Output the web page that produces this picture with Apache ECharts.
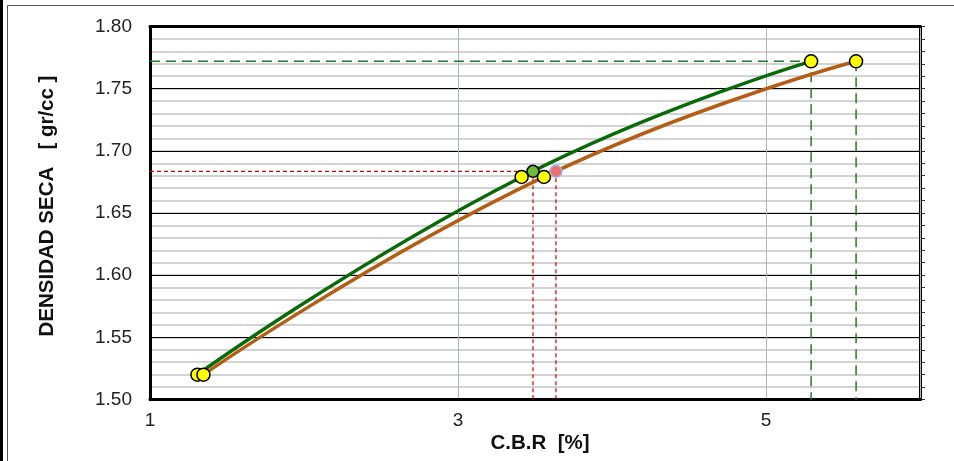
<!DOCTYPE html>
<html>
<head>
<meta charset="utf-8">
<script src="https://cdn.jsdelivr.net/npm/echarts@6/dist/echarts.min.js"></script>
<style>
  html, body { margin: 0; padding: 0; background: #fff; }
  #chart { width: 954px; height: 461px; }
</style>
</head>
<body>
<div id="chart"></div>
<script>
// Compaction curves: C.B.R [%] versus dry density [gr/cc]
const cbrGreen = [1.308, 3.413, 5.293];
const densGreen = [1.520, 1.679, 1.772];
const cbrBrown = [1.347, 3.558, 5.585];
const densBrown = [1.520, 1.679, 1.772];

// Design points read on each curve
const cbrDesignGreen = 3.487;
const cbrDesignBrown = 3.636;
const densDesign = 1.6835;
const densMax = 1.772;

const xTickLabels = [1, 3, 5];
const yTickLabels = [1.50, 1.55, 1.60, 1.65, 1.70, 1.75, 1.80];

const X_MIN = 1, X_MAX = 6, Y_MIN = 1.5, Y_MAX = 1.8;
const FONT = '"Liberation Sans", Arial, sans-serif';

const zip = (xs, ys) => xs.map((x, i) => [x, ys[i]]);

const chart = echarts.init(document.getElementById('chart'), null, { renderer: 'canvas' });

function dashed(data, color, type, width) {
  return {
    type: 'line', data, symbol: 'none', silent: true, z: 1,
    lineStyle: { color, width, type }
  };
}

const option = {
  animation: false,
  backgroundColor: '#fff',
  grid: { left: 150, right: 34, top: 26.5, bottom: 61.5 },
  xAxis: [
    {
      type: 'value', min: X_MIN, max: X_MAX, interval: 2, position: 'bottom', z: 1,
      axisLine: { show: true, lineStyle: { color: '#000', width: 3 } },
      axisTick: { show: false },
      axisLabel: {
        fontSize: 19, color: '#222', fontFamily: FONT, margin: 12,
        formatter: v => xTickLabels.includes(v) ? String(v) : ''
      },
      splitLine: { show: true, lineStyle: { color: '#aab4c8', width: 1 } }
    },
    {
      type: 'value', min: X_MIN, max: X_MAX, position: 'top', z: 1,
      axisLine: { show: true, onZero: false, lineStyle: { color: '#000', width: 3 } },
      axisTick: { show: false }, axisLabel: { show: false }, splitLine: { show: false }
    }
  ],
  yAxis: [
    {
      type: 'value', min: Y_MIN, max: Y_MAX, interval: 0.05, position: 'left', z: 1,
      axisLine: { show: true, lineStyle: { color: '#000', width: 3 } },
      axisTick: { show: false },
      axisLabel: {
        fontSize: 19, color: '#222', fontFamily: FONT, margin: 18,
        formatter: v => {
          const hit = yTickLabels.find(t => Math.abs(t - v) < 1e-6);
          return hit !== undefined ? hit.toFixed(2) : '';
        }
      },
      splitLine: { show: true, lineStyle: { color: '#000', width: 1 } }
    },
    {
      type: 'value', min: Y_MIN, max: Y_MAX, interval: 0.01, position: 'right', z: 0,
      axisLine: { show: true, lineStyle: { color: '#000', width: 3 } },
      axisTick: { show: true, length: 5, inside: false, lineStyle: { color: '#333', width: 1 } },
      axisLabel: { show: false },
      splitLine: { show: true, lineStyle: { color: '#c4c4c4', width: 1.5 } }
    }
  ],
  series: [
    // reference lines for maximum density
    dashed([[X_MIN, densMax], [cbrGreen[2], densMax], [cbrGreen[2], Y_MIN]], '#237a23', [10, 6], 1.5),
    dashed([[cbrBrown[2], densMax], [cbrBrown[2], Y_MIN]], '#237a23', [10, 6], 1.5),
    // reference lines for design density
    dashed([[X_MIN, densDesign], [cbrDesignBrown, densDesign]], '#d00000', [4, 3], 1.2),
    dashed([[cbrDesignGreen, densDesign], [cbrDesignGreen, Y_MIN]], '#d00000', [4, 3], 1.2),
    dashed([[cbrDesignBrown, densDesign], [cbrDesignBrown, Y_MIN]], '#d00000', [4, 3], 1.2),
    {
      name: 'curva 1', type: 'line', data: zip(cbrGreen, densGreen), smooth: 0.5, z: 3,
      symbol: 'circle', symbolSize: 13,
      lineStyle: { color: '#0a6a0a', width: 3.5 },
      itemStyle: { color: '#ffff00', borderColor: '#000', borderWidth: 1.5 }
    },
    {
      name: 'curva 2', type: 'line', data: zip(cbrBrown, densBrown), smooth: 0.5, z: 3,
      symbol: 'circle', symbolSize: 13,
      lineStyle: { color: '#b35d15', width: 3.5 },
      itemStyle: { color: '#ffff00', borderColor: '#000', borderWidth: 1.5 }
    },
    {
      type: 'scatter', data: [[cbrDesignGreen, densDesign]], symbolSize: 12, z: 4,
      itemStyle: { color: '#6cbc3c', opacity: 1, borderColor: '#000', borderWidth: 1.5 }
    },
    {
      type: 'scatter', data: [[cbrDesignBrown, densDesign]], symbolSize: 12, z: 4,
      itemStyle: { color: '#f07070', opacity: 1, borderColor: '#9fb2e0', borderWidth: 1.5 }
    }
  ],
  graphic: [
    { type: 'line', silent: true, shape: { x1: 1.5, y1: 0, x2: 1.5, y2: 461 }, style: { stroke: '#000', lineWidth: 3 } },
    { type: 'rect', silent: true, shape: { x: 7.5, y: 5.5, width: 960, height: 470 }, style: { fill: null, stroke: '#555', lineWidth: 1 } },
    {
      type: 'text', x: 540, y: 443, silent: true,
      style: { text: 'C.B.R  [%]', font: 'bold 20.5px ' + FONT, fill: '#111', align: 'center', verticalAlign: 'middle' }
    },
    {
      type: 'text', x: 47, y: 206, rotation: Math.PI / 2, silent: true,
      style: { text: 'DENSIDAD SECA   [ gr/cc ]', font: 'bold 20.5px ' + FONT, fill: '#111', align: 'center', verticalAlign: 'middle' }
    }
  ]
};

chart.setOption(option);
</script>
</body>
</html>
